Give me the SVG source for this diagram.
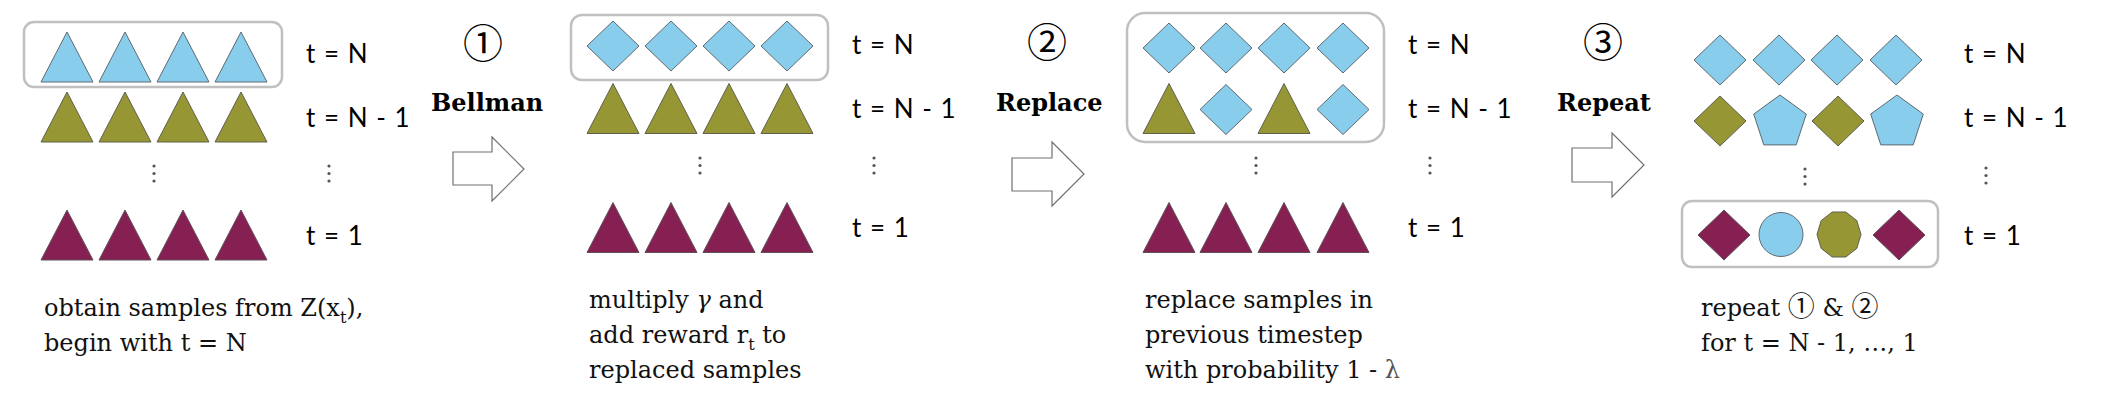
<svg xmlns="http://www.w3.org/2000/svg" width="2112" height="415" viewBox="0 0 2112 415">
<style>
.bg{fill:#ffffff}
.box{fill:none;stroke:#c0c0c0;stroke-width:2.5}
.b{fill:#89cdec;stroke:#5f6a70;stroke-width:1}
.o{fill:#969634;stroke:#5f6050;stroke-width:1}
.p{fill:#862052;stroke:#5f5058;stroke-width:1}
.arrow{fill:#ffffff;stroke:#707070;stroke-width:1.2}
.dot{fill:#555555}
.lab{font-family:Lato,"Open Sans",sans-serif;font-size:26px;fill:#000;word-spacing:2px}
.txt{font-family:"DejaVu Serif","Liberation Serif",serif;font-size:24px;fill:#111}
.cn{font-family:"Noto Sans CJK JP","DejaVu Sans",sans-serif;font-size:27px}
.step{font-family:"DejaVu Serif","Liberation Serif",serif;font-size:24px;font-weight:bold;fill:#000}
.num{font-family:"Noto Sans CJK JP","DejaVu Sans",sans-serif;font-size:40px;fill:#000;text-anchor:middle}
</style>
<defs>
<polygon id="tri" points="0,-25 26,25 -26,25"/>
<polygon id="dia" points="0,-25 26,0 0,25 -26,0"/>
<polygon id="pent" points="0,-27.6 26.3,-8.5 16.2,22.3 -16.2,22.3 -26.3,-8.5"/>
<polygon id="dec" points="22,0 17.8,13.9 6.8,22.5 -6.8,22.5 -17.8,13.9 -22,0 -17.8,-13.9 -6.8,-22.5 6.8,-22.5 17.8,-13.9"/>
<g id="vdots"><circle cx="0" cy="0" r="1.6"/><circle cx="0" cy="7.5" r="1.6"/><circle cx="0" cy="15" r="1.6"/></g>
</defs>
<rect class="bg" x="0" y="0" width="2112" height="415"/>

<g id="panel1">
<rect class="box" x="24" y="22" width="258" height="65" rx="10"/>
<g id="p1-row1"><use href="#tri" class="b" x="67" y="57"/><use href="#tri" class="b" x="125" y="57"/><use href="#tri" class="b" x="183" y="57"/><use href="#tri" class="b" x="241" y="57"/></g>
<g id="p1-row2"><use href="#tri" class="o" x="67" y="117"/><use href="#tri" class="o" x="125" y="117"/><use href="#tri" class="o" x="183" y="117"/><use href="#tri" class="o" x="241" y="117"/></g>
<use href="#vdots" class="dot" x="154" y="166"/>
<use href="#vdots" class="dot" x="329" y="166"/>
<g id="p1-row3"><use href="#tri" class="p" x="67" y="235"/><use href="#tri" class="p" x="125" y="235"/><use href="#tri" class="p" x="183" y="235"/><use href="#tri" class="p" x="241" y="235"/></g>
<text class="lab" x="306" y="63">t = N</text>
<text class="lab" x="306" y="127">t = N - 1</text>
<text class="lab" x="306" y="245">t = 1</text>
<text class="txt" x="44" y="316">obtain samples from Z(x<tspan font-size="16" dy="7">t</tspan><tspan dy="-7">),</tspan></text>
<text class="txt" x="44" y="351">begin with t = N</text>
</g>

<g id="step1">
<text class="num" x="483" y="58">①</text>
<text class="step" x="431" y="111">Bellman</text>
</g>

<g id="panel2">
<rect class="box" x="571" y="15" width="257" height="65" rx="11"/>
<g id="p2-row1"><use href="#dia" class="b" x="613" y="46"/><use href="#dia" class="b" x="671" y="46"/><use href="#dia" class="b" x="729" y="46"/><use href="#dia" class="b" x="787" y="46"/></g>
<g id="p2-row2"><use href="#tri" class="o" x="613" y="108.5"/><use href="#tri" class="o" x="671" y="108.5"/><use href="#tri" class="o" x="729" y="108.5"/><use href="#tri" class="o" x="787" y="108.5"/></g>
<use href="#vdots" class="dot" x="700" y="158"/>
<use href="#vdots" class="dot" x="874" y="158"/>
<g id="p2-row3"><use href="#tri" class="p" x="613" y="227.5"/><use href="#tri" class="p" x="671" y="227.5"/><use href="#tri" class="p" x="729" y="227.5"/><use href="#tri" class="p" x="787" y="227.5"/></g>
<text class="lab" x="852" y="54">t = N</text>
<text class="lab" x="852" y="118">t = N - 1</text>
<text class="lab" x="852" y="237">t = 1</text>
<text class="txt" x="589" y="308">multiply <tspan font-style="italic">γ</tspan> and</text>
<text class="txt" x="589" y="343">add reward r<tspan font-size="16" dy="7">t</tspan><tspan dy="-7"> to</tspan></text>
<text class="txt" x="589" y="378">replaced samples</text>
</g>

<g id="step2">
<text class="num" x="1047" y="57">②</text>
<text class="step" x="996" y="111">Replace</text>
</g>

<g id="panel3">
<rect class="box" x="1127" y="13" width="257" height="129" rx="18"/>
<g id="p3-row1"><use href="#dia" class="b" x="1169" y="48"/><use href="#dia" class="b" x="1226" y="48"/><use href="#dia" class="b" x="1284" y="48"/><use href="#dia" class="b" x="1343" y="48"/></g>
<g id="p3-row2"><use href="#tri" class="o" x="1169" y="108.5"/><use href="#dia" class="b" x="1226" y="109.5"/><use href="#tri" class="o" x="1284" y="108.5"/><use href="#dia" class="b" x="1343" y="109.5"/></g>
<use href="#vdots" class="dot" x="1256" y="158"/>
<use href="#vdots" class="dot" x="1430" y="158"/>
<g id="p3-row3"><use href="#tri" class="p" x="1169" y="227.5"/><use href="#tri" class="p" x="1226" y="227.5"/><use href="#tri" class="p" x="1284" y="227.5"/><use href="#tri" class="p" x="1343" y="227.5"/></g>
<text class="lab" x="1408" y="54">t = N</text>
<text class="lab" x="1408" y="118">t = N - 1</text>
<text class="lab" x="1408" y="237">t = 1</text>
<text class="txt" x="1145" y="308">replace samples in</text>
<text class="txt" x="1145" y="343">previous timestep</text>
<text class="txt" x="1145" y="378">with probability 1 - <tspan fill="#555">λ</tspan></text>
</g>

<g id="step3">
<text class="num" x="1603" y="57">③</text>
<text class="step" x="1557" y="111">Repeat</text>
</g>

<g id="panel4">
<g id="p4-row1"><use href="#dia" class="b" x="1720" y="60"/><use href="#dia" class="b" x="1779" y="60"/><use href="#dia" class="b" x="1837" y="60"/><use href="#dia" class="b" x="1896" y="60"/></g>
<g id="p4-row2"><use href="#dia" class="o" x="1720" y="121"/><use href="#pent" class="b" x="1780" y="122.6"/><use href="#dia" class="o" x="1838" y="121"/><use href="#pent" class="b" x="1897" y="122.6"/></g>
<use href="#vdots" class="dot" x="1805" y="169"/>
<use href="#vdots" class="dot" x="1986" y="168"/>
<rect class="box" x="1682" y="201" width="256" height="66" rx="10"/>
<g id="p4-row3"><use href="#dia" class="p" x="1724" y="235"/><circle class="b" cx="1781" cy="234.5" r="22"/><use href="#dec" class="o" x="1839" y="234.5"/><use href="#dia" class="p" x="1899" y="235"/></g>
<text class="lab" x="1964" y="63">t = N</text>
<text class="lab" x="1964" y="127">t = N - 1</text>
<text class="lab" x="1964" y="245">t = 1</text>
<text class="txt" x="1701" y="316">repeat <tspan class="cn">①</tspan> &amp; <tspan class="cn">②</tspan></text>
<text class="txt" x="1701" y="351">for t = N - 1, …, 1</text>
</g>

<g id="connectors">
<path class="arrow" d="M453,152 H492 V137 L524,169 L492,201 V185 H453 Z"/>
<path class="arrow" d="M1012,158 H1052 V142 L1084,174 L1052,206 V191 H1012 Z"/>
<path class="arrow" d="M1572,148 H1612 V133 L1644,165 L1612,197 V182 H1572 Z"/>
</g>
</svg>
